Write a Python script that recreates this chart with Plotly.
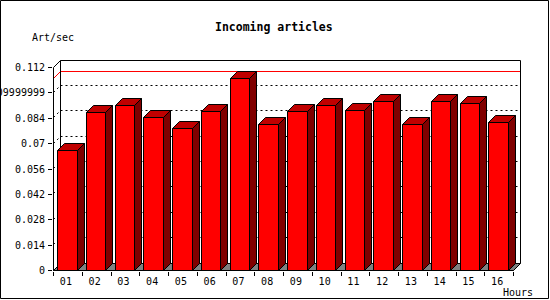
import math
import plotly.graph_objects as go

# ---- data ----
hours = ["01", "02", "03", "04", "05", "06", "07", "08",
         "09", "10", "11", "12", "13", "14", "15", "16"]
art_per_sec = [0.0657, 0.0870, 0.0909, 0.0844, 0.0778, 0.0875, 0.1057, 0.0804,
               0.0872, 0.0909, 0.0881, 0.0931, 0.0804, 0.0931, 0.0920, 0.0815]
y_tick_vals = [0, 0.014, 0.028, 0.042, 0.056, 0.07, 0.084, 0.098, 0.112]
y_tick_text = ["0", "0.014", "0.028", "0.042", "0.056", "0.07", "0.084",
               "0.09999999", "0.112"]
chart_title = "Incoming articles"
y_title = "Art/sec"
x_title = "Hours"

# ---- geometry / style ----
W, H = 550, 300
L, T, R, B = 53, 60, 29, 29
PW, PH = W - L - R, H - T - B          # 468 x 211
CAT_PX = 28.75                          # pixels per category
Y_MAX = y_tick_vals[-1]
VAL_PX = 203 / Y_MAX                    # pixels per unit
DEPTH = 7                               # 3d depth in pixels
BAR_W = 0.67
N = len(hours)

FRONT = "#ff0000"
TOP = "#c00000"
SIDE = "#800000"
FLOOR = "#808080"
FONT = "DejaVu Sans Mono"

dX = DEPTH / CAT_PX
dY = DEPTH / VAL_PX


def x_rel(v):
    return 0.5 + (v + 0.5) * CAT_PX


def x_inv(p):
    return (p - 0.5) / CAT_PX - 0.5


def y_rel(v):
    return 210.5 - v * VAL_PX


def y_inv(p):
    return (210.5 - p) / VAL_PX


def jsround(p):
    return math.floor(p + 0.5)


def sx(v):
    return x_inv(jsround(x_rel(v)) - 0.5)


def sy(v):
    return y_inv(jsround(y_rel(v)) - 0.5)


def px_x(px):
    return (px - L) / PW


def px_y(py):
    return 1 - (py - T) / PH


xr_range = [x_inv(0), x_inv(PW)]
yr_range = [y_inv(PH), y_inv(0)]

x_left, x_right = -0.5, N - 0.5
y_top_front = sy(Y_MAX)

shapes = []


def line(x0, y0, x1, y1, color="black", dash="solid", layer="below"):
    shapes.append(dict(type="line", xref="x", yref="y", x0=x0, y0=y0, x1=x1, y1=y1,
                       line=dict(color=color, width=1, dash=dash), layer=layer))


def poly(pts, fill, layer):
    path = "M " + " L ".join(f"{a:.6f},{b:.7f}" for a, b in pts) + " Z"
    shapes.append(dict(type="path", xref="x", yref="y", path=path,
                       fillcolor=fill, line=dict(color="black", width=1), layer=layer))


# back-wall dotted gridlines
for v in y_tick_vals[1:-1]:
    yv = sy(v)
    line(x_left + dX, yv + dY, x_right + dX, yv + dY, dash="2px,3px")
    line(x_left, yv, x_left + dX, yv + dY, dash="2px,3px")

# max line (red)
m = sy(max(art_per_sec))
line(x_left + dX, m + dY, x_right + dX, m + dY, color="#ff0000")
line(x_left, m, x_left + dX, m + dY, color="#ff0000")

# frame
top_back = y_top_front + dY
line(x_left + dX, top_back, x_right + dX, top_back)
line(x_left + dX, dY, x_left + dX, top_back)
line(x_right + dX, dY, x_right + dX, top_back)
line(x_left, y_top_front, x_left + dX, top_back)

# floor
poly([(x_left, 0), (x_right, 0), (x_right + dX, dY), (x_left + dX, dY)], FLOOR, "below")

# bar top and side faces
for i, v in enumerate(art_per_sec):
    xl = sx(i - BAR_W / 2)
    xr = sx(i + BAR_W / 2)
    yt = sy(v)
    poly([(xl, yt), (xr, yt), (xr + dX, yt + dY), (xl + dX, yt + dY)], TOP, "above")
    poly([(xr, 0), (xr + dX, dY), (xr + dX, yt + dY), (xr, yt)], SIDE, "above")

# front axes lines
line(x_left, 0, x_right, 0, layer="above")
line(x_left, 0, x_left, y_top_front, layer="above")

# outer border
shapes.append(dict(type="rect", xref="paper", yref="paper",
                   x0=px_x(0.5), x1=px_x(548.5), y0=px_y(298.5), y1=px_y(0.5),
                   line=dict(color="black", width=1), fillcolor="rgba(0,0,0,0)",
                   layer="above"))

fig = go.Figure()
fig.add_trace(go.Bar(
    x=hours, y=art_per_sec, width=BAR_W,
    marker=dict(color=FRONT, line=dict(color="black", width=1)),
    hoverinfo="skip",
))

annotations = [
    dict(text=f"<b>{chart_title}</b>", xref="paper", yref="paper",
         x=px_x(274), y=px_y(27), xanchor="center", yanchor="middle",
         showarrow=False, font=dict(family=FONT, size=11.5, color="black")),
    dict(text=y_title, xref="paper", yref="paper",
         x=px_x(30), y=px_y(37), xanchor="left", yanchor="middle",
         showarrow=False, font=dict(family=FONT, size=10, color="black")),
    dict(text=x_title, xref="paper", yref="paper",
         x=px_x(535), y=px_y(292), xanchor="right", yanchor="middle",
         showarrow=False, font=dict(family=FONT, size=10, color="black")),
]

fig.update_layout(
    template="none",
    width=W, height=H,
    margin=dict(l=L, r=R, t=T, b=B, pad=0),
    paper_bgcolor="white", plot_bgcolor="white",
    showlegend=False,
    bargap=0, bargroupgap=0,
    shapes=shapes,
    annotations=annotations,
    xaxis=dict(type="category", range=xr_range, autorange=False,
               tickson="boundaries", ticks="outside", ticklen=4, tickwidth=1,
               tickcolor="black", showline=False, showgrid=False, zeroline=False,
               tickfont=dict(family=FONT, size=10, color="black"),
               ticklabelshift=-2, ticklabelstandoff=3,
               automargin=False, fixedrange=True),
    yaxis=dict(range=yr_range, autorange=False,
               tickmode="array", tickvals=y_tick_vals, ticktext=y_tick_text,
               ticks="outside", ticklen=4, tickwidth=1, tickcolor="black",
               showline=False, showgrid=False, zeroline=False,
               tickfont=dict(family=FONT, size=10, color="black"),
               ticklabelstandoff=1,
               automargin=False, fixedrange=True),
)

fig.write_html("out.html", config={"displayModeBar": False})
